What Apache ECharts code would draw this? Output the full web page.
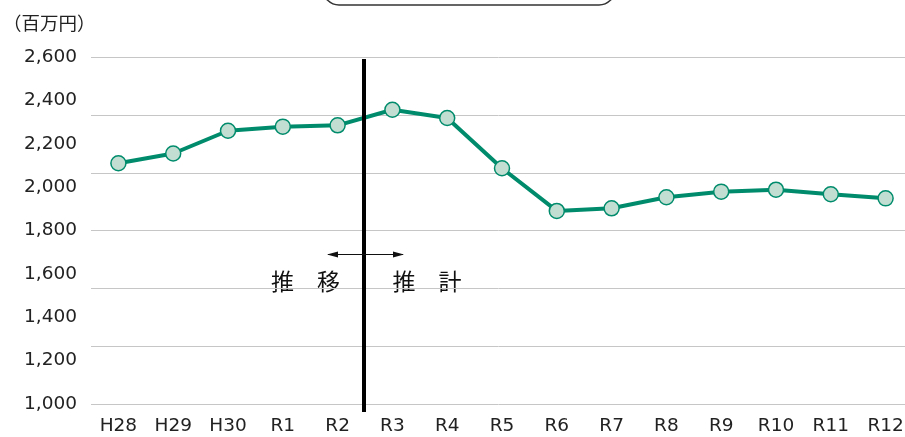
<!DOCTYPE html>
<html>
<head>
<meta charset="utf-8">
<script src="https://cdn.jsdelivr.net/npm/echarts@6/dist/echarts.min.js"></script>
<style>
  html, body { margin: 0; padding: 0; background: #fff; }
  #chart { width: 905px; height: 437px; }
</style>
</head>
<body>
<div id="chart"></div>
<script>
const years = ["H28", "H29", "H30", "R1", "R2", "R3", "R4", "R5", "R6", "R7", "R8", "R9", "R10", "R11", "R12"];
const amounts = [2111, 2156, 2261, 2280, 2286, 2358, 2320, 2088, 1891, 1903, 1954, 1980, 1989, 1968, 1949];
const yTicks = [1000, 2600, 200];   // min, max, step of the labelled axis
const unitLabel = "（百万円）";
const pastLabel = "推　移";
const futureLabel = "推　計";

const font = '"DejaVu Sans", "Noto Sans CJK JP", sans-serif';
const cjkFont = '"Noto Sans CJK JP", sans-serif';
const green = "#008c6c";

const chart = echarts.init(document.getElementById("chart"));

// arrow heads for the 推移 / 推計 marker
function arrowHead(x, y, dir) {
  return {
    type: "polygon",
    shape: { points: [[x, y], [x - dir * 11, y - 3], [x - dir * 11, y + 3]] },
    style: { fill: "#111" }
  };
}

chart.setOption({
  animation: false,
  // plot runs a little past the right edge of the picture, as in the original
  grid: { left: 91, width: 822, top: 57.3, bottom: 33, outerBoundsMode: "none", containLabel: false },
  xAxis: {
    type: "category",
    data: years,
    boundaryGap: true,
    axisLine: { show: false },
    axisTick: { show: false },
    axisLabel: { color: "#222", fontFamily: font, fontSize: 18.5, margin: 13 }
  },
  yAxis: [
    {
      type: "value",
      min: yTicks[0],
      max: yTicks[1],
      interval: yTicks[2],
      axisLine: { show: false },
      axisTick: { show: false },
      splitLine: { show: false },
      axisLabel: {
        color: "#222", fontFamily: font, fontSize: 18.5, margin: 14,
        formatter: (v) => v.toLocaleString("en-US")
      }
    },
    {
      // the horizontal rules of the original sit on a 6-step grid, not on the labels
      type: "value",
      position: "left",
      min: 0,
      max: 6,
      interval: 1,
      axisLine: { show: false },
      axisTick: { show: false },
      axisLabel: { show: false },
      splitLine: { lineStyle: { color: "#c6c6c6", width: 1 } }
    }
  ],
  series: [{
    type: "line",
    yAxisIndex: 0,
    data: amounts,
    symbol: "circle",
    symbolSize: 15,
    lineStyle: { color: green, width: 4 },
    itemStyle: { color: "#c2ded2", borderColor: green, borderWidth: 1.5 },
    z: 5
  }],
  graphic: [
    {
      type: "rect",
      shape: { x: 323, y: -30, width: 292, height: 35, r: 16 },
      style: { fill: "none", stroke: "#333", lineWidth: 1.5 }
    },
    {
      type: "text",
      x: 3, y: 23,
      style: { text: unitLabel, font: "18.5px " + cjkFont, fill: "#222", verticalAlign: "middle" }
    },
    {
      type: "line",
      shape: { x1: 364, y1: 59, x2: 364, y2: 412 },
      style: { stroke: "#000", lineWidth: 4 },
      z: 10
    },
    {
      type: "line",
      shape: { x1: 328, y1: 254.5, x2: 403, y2: 254.5 },
      style: { stroke: "#111", lineWidth: 1.2 },
      z: 10
    },
    arrowHead(327, 254.5, -1),
    arrowHead(404, 254.5, 1),
    {
      type: "text",
      x: 305.5, y: 281,
      style: { text: pastLabel, font: "23px " + cjkFont, fill: "#111", align: "center", verticalAlign: "middle" }
    },
    {
      type: "text",
      x: 427, y: 281,
      style: { text: futureLabel, font: "23px " + cjkFont, fill: "#111", align: "center", verticalAlign: "middle" }
    }
  ]
});
</script>
</body>
</html>
